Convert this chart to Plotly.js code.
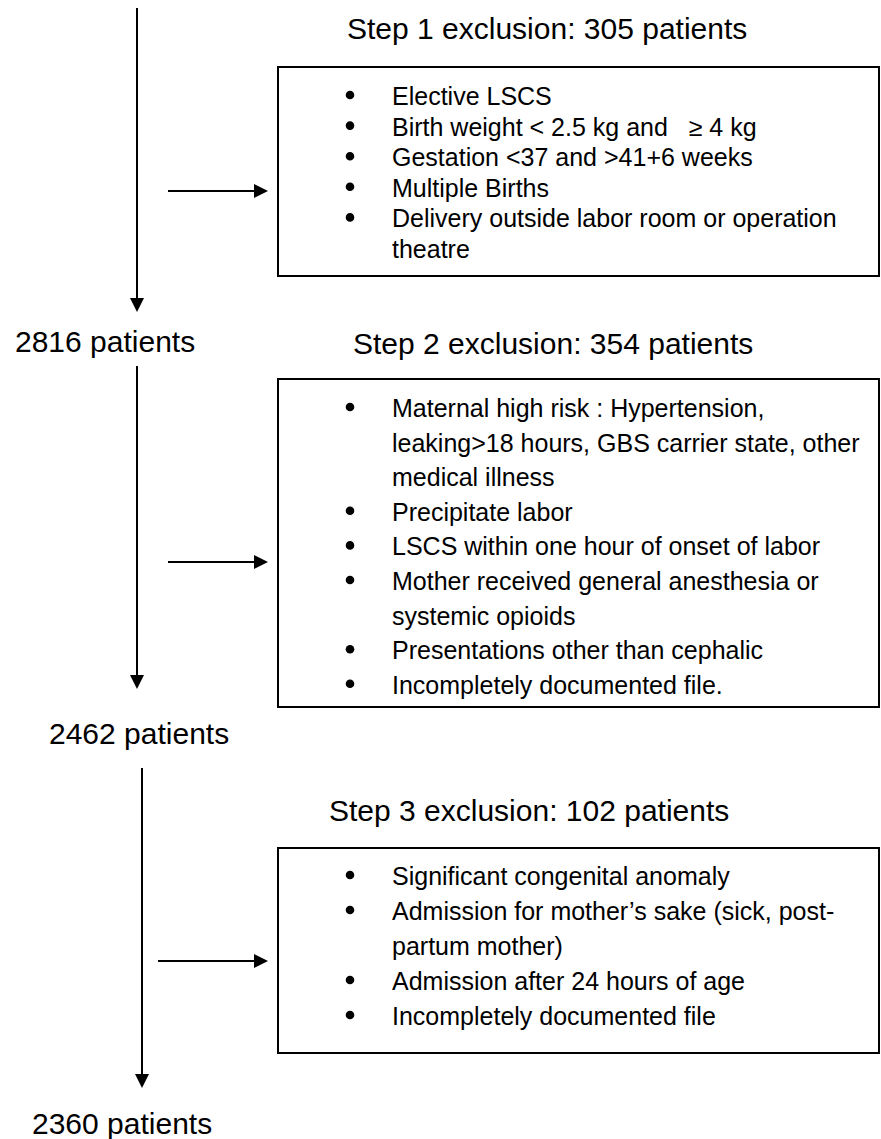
<!DOCTYPE html>
<html>
<head>
<meta charset="utf-8">
<script src="https://cdn.plot.ly/plotly-3.0.1.min.js"></script>
<style>html,body{margin:0;padding:0;background:#fff;}#chart{width:881px;height:1139px;}</style>
</head>
<body>
<div id="chart"></div>
<script>
// ---- Data ----
const remainingCounts = [2816, 2462, 2360];
const excludedCounts = [305, 354, 102];
const stepNames = ["Step 1", "Step 2", "Step 3"];
const step1Criteria = [
  ["Elective LSCS"],
  ["Birth weight < 2.5 kg and \u00a0\u00a0\u2265 4 kg"],
  ["Gestation <37 and >41+6 weeks"],
  ["Multiple Births"],
  ["Delivery outside labor room or operation", "theatre"]
];
const step2Criteria = [
  ["Maternal high risk : Hypertension,", "leaking>18 hours, GBS carrier state, other", "medical illness"],
  ["Precipitate labor"],
  ["LSCS within one hour of onset of labor"],
  ["Mother received general anesthesia or", "systemic opioids"],
  ["Presentations other than cephalic"],
  ["Incompletely documented file."]
];
const step3Criteria = [
  ["Significant congenital anomaly"],
  ["Admission for mother\u2019s sake (sick, post-", "partum mother)"],
  ["Admission after 24 hours of age"],
  ["Incompletely documented file"]
];
const criteriaLists = [step1Criteria, step2Criteria, step3Criteria];

// ---- Layout geometry (pixels in a 881x1139 frame) ----
const W = 881, H = 1139;
const FONT = "Liberation Sans, Arial, sans-serif";
const geo = [
  {vx: 137, vTop: 8,   vTip: 312, hy: 191, hx0: 168, boxTop: 67,  boxBot: 276,  titleY: 28,  first: 96,  gap: 30.6, labelX: 105, labelY: 341},
  {vx: 137, vTop: 366, vTip: 689, hy: 562, hx0: 168, boxTop: 379, boxBot: 707,  titleY: 343, first: 408, gap: 34.6, labelX: 139, labelY: 733},
  {vx: 142, vTop: 768, vTip: 1088, hy: 961, hx0: 158, boxTop: 848, boxBot: 1053, titleY: 810, first: 876, gap: 35,  labelX: 122, labelY: 1123}
];
const boxL = 278, boxR = 879, bulletX = 350, bulletR = 4.3, textX = 390, titleX = [345, 351, 327];
const AH = 14, AW = 7; // arrowhead length and half-width

const shapes = [];
const annotations = [];
const lineStyle = {color: "#000", width: 2};

geo.forEach((g, i) => {
  // vertical flow line + arrowhead
  shapes.push({type: "line", xref: "x", yref: "y", x0: g.vx, x1: g.vx, y0: g.vTop, y1: g.vTip - AH + 1, line: lineStyle});
  shapes.push({type: "path", xref: "x", yref: "y",
    path: `M ${g.vx - AW} ${g.vTip - AH} L ${g.vx + AW} ${g.vTip - AH} L ${g.vx} ${g.vTip} Z`,
    fillcolor: "#000", line: {color: "#000", width: 0}});
  // horizontal arrow to box
  const tipX = boxL - 10;
  shapes.push({type: "line", xref: "x", yref: "y", x0: g.hx0, x1: tipX - AH + 1, y0: g.hy, y1: g.hy, line: lineStyle});
  shapes.push({type: "path", xref: "x", yref: "y",
    path: `M ${tipX - AH} ${g.hy - AW} L ${tipX - AH} ${g.hy + AW} L ${tipX} ${g.hy} Z`,
    fillcolor: "#000", line: {color: "#000", width: 0}});
  // box
  shapes.push({type: "rect", xref: "x", yref: "y", x0: boxL, x1: boxR, y0: g.boxTop, y1: g.boxBot,
    line: {color: "#000", width: 2}, fillcolor: "rgba(0,0,0,0)"});
  // step title
  annotations.push({x: titleX[i], y: g.titleY, xref: "x", yref: "y", xanchor: "left", yanchor: "middle",
    text: `${stepNames[i]} exclusion: ${excludedCounts[i]} patients`, showarrow: false,
    font: {family: FONT, size: 30, color: "#000"}});
  // remaining label
  annotations.push({x: g.labelX, y: g.labelY, xref: "x", yref: "y", xanchor: "center", yanchor: "middle",
    text: `${remainingCounts[i]} patients`, showarrow: false,
    font: {family: FONT, size: 30, color: "#000"}});
  // criteria
  let k = 0;
  criteriaLists[i].forEach(item => {
    item.forEach((ln, j) => {
      const y = g.first + k * g.gap;
      if (j === 0) {
        shapes.push({type: "circle", xref: "x", yref: "y",
          x0: bulletX - bulletR, x1: bulletX + bulletR, y0: y - 1 - bulletR, y1: y - 1 + bulletR,
          fillcolor: "#000", line: {color: "#000", width: 0}});
      }
      annotations.push({x: textX, y: y, xref: "x", yref: "y", xanchor: "left", yanchor: "middle",
        text: ln, showarrow: false, font: {family: FONT, size: 25, color: "#000"}});
      k++;
    });
  });
});

const layout = {
  width: W, height: H,
  margin: {l: 0, r: 0, t: 0, b: 0, pad: 0},
  paper_bgcolor: "#fff", plot_bgcolor: "#fff",
  xaxis: {range: [0, W], visible: false, fixedrange: true},
  yaxis: {range: [H, 0], visible: false, fixedrange: true},
  shapes: shapes,
  annotations: annotations,
  showlegend: false
};
Plotly.newPlot("chart", [], layout, {staticPlot: true, displayModeBar: false});
</script>
</body>
</html>
